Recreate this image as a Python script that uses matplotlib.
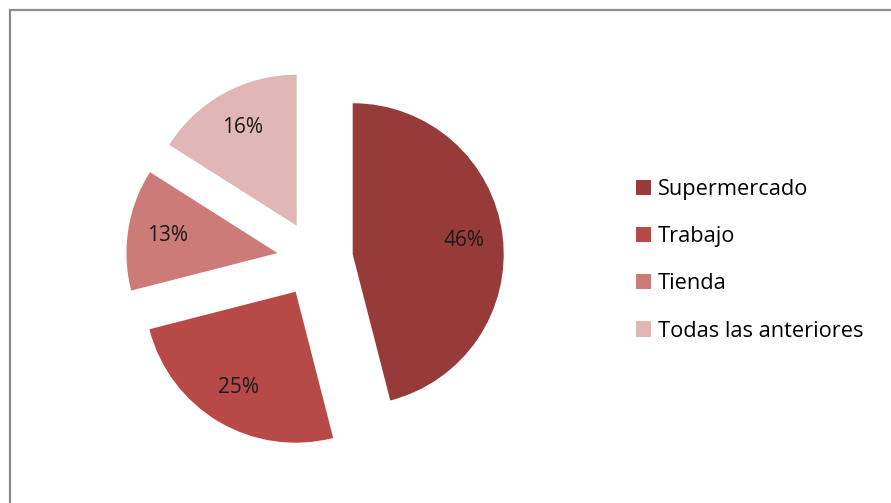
import matplotlib
matplotlib.use('Agg')
import matplotlib.pyplot as plt
from matplotlib.patches import Rectangle

# Datos del gráfico
categorias = ['Supermercado', 'Trabajo', 'Tienda', 'Todas las anteriores']
porcentajes = [46, 25, 13, 16]
colores = ['#963B3A', '#B74A47', '#CC7B79', '#E0B6B6']

plt.rcParams['font.family'] = ['Open Sans', 'DejaVu Sans']

fig = plt.figure(figsize=(8.91, 5.03), dpi=100)
ax = fig.add_axes([0, 0, 1, 1])

# Tarta con todas las porciones separadas, empezando arriba y en sentido horario
wedges, textos, autotextos = ax.pie(
    porcentajes,
    colors=colores,
    startangle=90,
    counterclock=False,
    center=(315, 244),
    radius=151,
    explode=[38] * len(porcentajes),
    autopct='%1.0f%%',
    pctdistance=0.74,
    textprops={'fontsize': 15, 'color': '#1a1a1a'},
    frame=True,
)

ax.set_xlim(0, 891)
ax.set_ylim(0, 503)
ax.set_aspect('equal')
ax.axis('off')

# Marco gris del área del gráfico
ax.add_patch(Rectangle((9.5, -20), 1000, 503 - 9.5 + 20, fill=False,
                       edgecolor='#8C8C8C', linewidth=1.6, clip_on=False))

ax.legend(wedges, categorias, loc='upper left', bbox_to_anchor=(636, 324),
          bbox_transform=ax.transData, frameon=False, fontsize=15.7,
          handlelength=0.7, handleheight=0.7, handletextpad=0.3,
          labelspacing=1.2, borderpad=0, borderaxespad=0)

plt.savefig('out.png', dpi=100)
